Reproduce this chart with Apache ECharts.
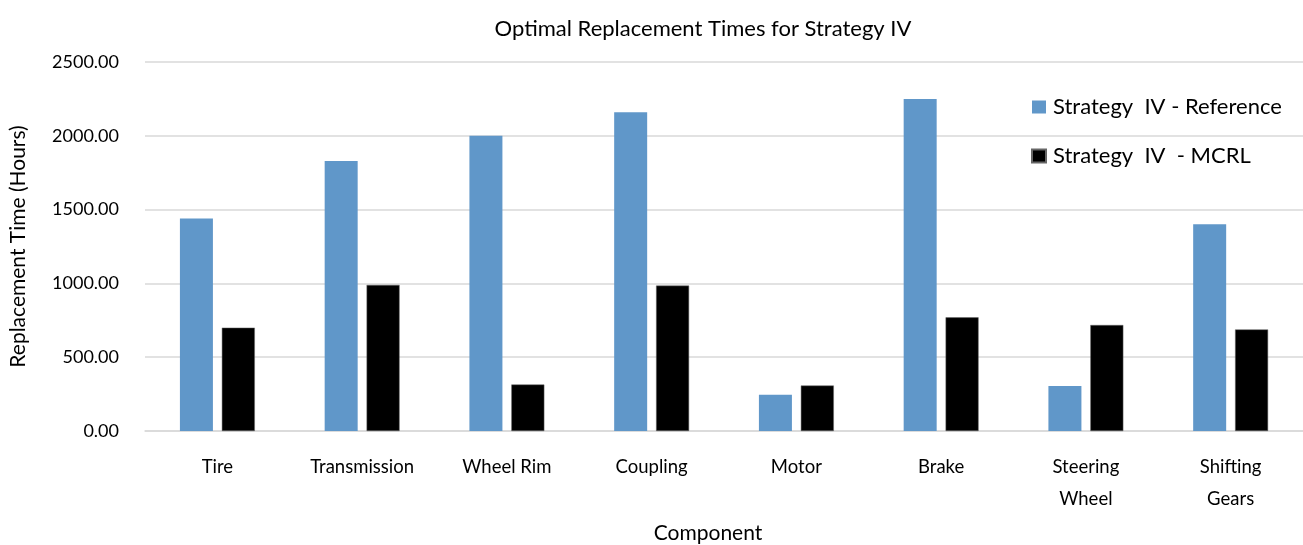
<!DOCTYPE html>
<html><head><meta charset="utf-8">
<script src="https://cdn.jsdelivr.net/npm/echarts@6/dist/echarts.min.js"></script>
<style>html,body{margin:0;padding:0;background:#fff}#c{width:1303px;height:545px}</style>
</head><body><div id="c"></div>
<script>
const categories = ['Tire', 'Transmission', 'Wheel Rim', 'Coupling', 'Motor', 'Brake', 'Steering\nWheel', 'Shifting\nGears'];
const referenceValues = [1440, 1830, 2000, 2160, 245, 2250, 305, 1400];
const mcrlValues = [700, 990, 315, 985, 308, 770, 718, 688];
const seriesNames = ['Strategy  IV - Reference', 'Strategy  IV  - MCRL'];

const chart = echarts.init(document.getElementById('c'));
const font = 'Lato, "Open Sans", sans-serif';
chart.setOption({
  animation: false,
  textStyle: { fontFamily: font },
  title: {
    text: 'Optimal Replacement Times for Strategy IV',
    left: 698, top: 13, textAlign: 'center',
    textStyle: { fontFamily: font, fontSize: 22, fontWeight: 'normal', color: '#000' }
  },
  legend: {
    orient: 'vertical', left: 1026, top: 91, itemGap: 27,
    itemWidth: 14, itemHeight: 13, icon: 'rect',
    textStyle: { fontFamily: font, fontSize: 22, color: '#000', padding: [0, 0, 0, 2] },
    data: seriesNames
  },
  grid: { left: 145, right: 0, top: 62, bottom: 114, outerBoundsMode: 'none', containLabel: false },
  xAxis: {
    type: 'category', data: categories,
    axisLine: { lineStyle: { color: '#d9d9d9', width: 1.5 } },
    axisTick: { show: false },
    axisLabel: { color: '#000', fontSize: 18.5, fontFamily: font, lineHeight: 32, margin: 20, interval: 0, verticalAlign: 'top' },
    name: 'Component', nameLocation: 'middle', nameGap: 92,
    nameTextStyle: { color: '#000', fontSize: 21, fontFamily: font, padding: [0, 32, 0, 0] }
  },
  yAxis: {
    type: 'value', min: 0, max: 2500, interval: 500,
    axisLine: { show: false }, axisTick: { show: false },
    splitLine: { lineStyle: { color: '#d9d9d9', width: 1.5 } },
    axisLabel: { color: '#000', fontSize: 18, fontFamily: font, margin: 26, formatter: v => v.toFixed(2) },
    name: 'Replacement Time (Hours)', nameLocation: 'middle', nameGap: 116, nameRotate: 90,
    nameTextStyle: { color: '#000', fontSize: 21, fontFamily: font }
  },
  series: [
    { name: seriesNames[0], type: 'bar', data: referenceValues, barWidth: 33, barGap: '27%',
      itemStyle: { color: '#6097c9' } },
    { name: seriesNames[1], type: 'bar', data: mcrlValues, barWidth: 33,
      itemStyle: { color: '#000', borderColor: '#666', borderWidth: 0.5 } }
  ]
});
</script></body></html>
